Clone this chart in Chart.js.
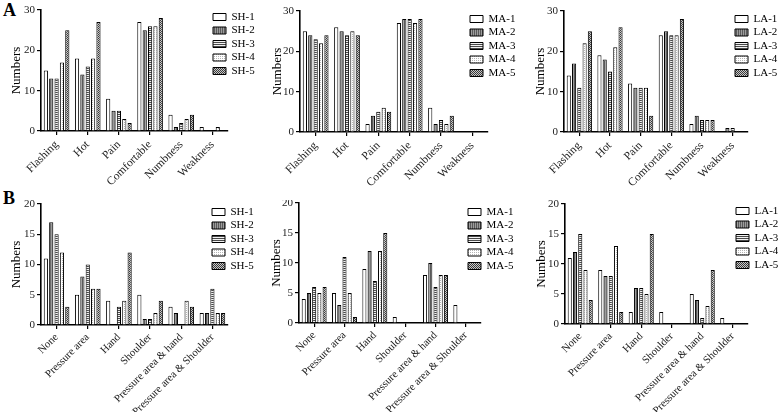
<!DOCTYPE html>
<html>
<head>
<meta charset="utf-8">
<script src="https://cdn.jsdelivr.net/npm/chart.js@4"></script>
<style>
    body { margin: 0; background: #fff; width: 778px; height: 412px; position: relative; overflow: hidden; font-family: 'Liberation Serif', 'Times New Roman', serif; }
    canvas.panel { position: absolute; }
    .tag { position: absolute; font-weight: bold; font-size: 18px; line-height: 18px; color: #000; }
</style>
</head>
<body>
<div class="tag" style="left:3px;top:1px">A</div>
<div class="tag" style="left:3px;top:189px">B</div>
<canvas id="aSH" class="panel"></canvas>
<canvas id="aMA" class="panel"></canvas>
<canvas id="aLA" class="panel"></canvas>
<canvas id="bSH" class="panel"></canvas>
<canvas id="bMA" class="panel"></canvas>
<canvas id="bLA" class="panel"></canvas>
<script>
const symptomLabels = ['Flashing', 'Hot', 'Pain', 'Comfortable', 'Numbness', 'Weakness'];
const regionLabels = ['None', 'Pressure area', 'Hand', 'Shoulder', 'Pressure area & hand', 'Pressure area & Shoulder'];

// one row per group (-1 ... -5)
const shSymptoms = [
    [15, 18, 8, 27, 4, 1],
    [13, 14, 5, 25, 1, 0],
    [13, 16, 5, 26, 2, 0],
    [17, 18, 3, 26, 3, 1],
    [25, 27, 2, 28, 4, 0]
];
const maSymptoms = [
    [25, 26, 2, 27, 6, 0],
    [24, 25, 4, 28, 2, 0],
    [23, 24, 5, 28, 3, 0],
    [22, 25, 6, 27, 2, 0],
    [24, 24, 5, 28, 4, 0]
];
const laSymptoms = [
    [14, 19, 12, 24, 2, 0],
    [17, 18, 11, 25, 4, 1],
    [11, 15, 11, 24, 3, 1],
    [22, 21, 11, 24, 3, 0],
    [25, 26, 4, 28, 3, 0]
];
const shRegions = [
    [11, 5, 4, 5, 3, 2],
    [17, 8, 0, 1, 2, 2],
    [15, 10, 3, 1, 0, 6],
    [12, 6, 4, 2, 4, 2],
    [3, 6, 12, 4, 3, 2]
];
const maRegions = [
    [4, 5, 9, 1, 8, 3],
    [5, 3, 12, 0, 10, 0],
    [6, 11, 7, 0, 6, 0],
    [5, 5, 12, 0, 8, 0],
    [6, 1, 15, 0, 8, 0]
];
const laRegions = [
    [11, 9, 2, 2, 5, 1],
    [12, 8, 6, 0, 4, 0],
    [15, 8, 6, 0, 1, 0],
    [9, 13, 5, 0, 3, 0],
    [4, 2, 15, 0, 9, 0]
];

const FONT = "'Liberation Serif', 'Times New Roman', serif";

function pattern(w, h, paint) {
    const c = document.createElement('canvas');
    c.width = w;
    c.height = h;
    const g = c.getContext('2d');
    paint(g);
    return g.createPattern(c, 'repeat');
}

const fills = [
    '#ffffff',
    pattern(2, 2, g => { g.fillStyle = '#9c9c9c'; g.fillRect(0, 0, 2, 2); g.fillStyle = '#5a5a5a'; g.fillRect(0, 0, 1, 2); }),
    pattern(2, 2, g => { g.fillStyle = '#f2f2f2'; g.fillRect(0, 0, 2, 2); g.fillStyle = '#4a4a4a'; g.fillRect(0, 0, 2, 1); }),
    pattern(2, 2, g => { g.fillStyle = '#ffffff'; g.fillRect(0, 0, 2, 2); g.fillStyle = '#b4b4b4'; g.fillRect(0, 0, 1, 1); }),
    pattern(2, 2, g => { g.fillStyle = '#c8c8c8'; g.fillRect(0, 0, 2, 2); g.fillStyle = '#3a3a3a'; g.fillRect(0, 0, 1, 1); g.fillRect(1, 1, 1, 1); })
];

// moves the legend to a fixed spot inside the panel
const legendSpot = {
    id: 'legendSpot',
    afterLayout(chart, args, opts) {
        const lg = chart.legend;
        const w = lg.width, h = lg.height;
        lg.left = opts.x;
        lg.top = opts.y;
        lg.right = opts.x + w;
        lg.bottom = opts.y + h;
    }
};

function makePanel(id, p, labels, series, prefix, yMax, yStep) {
    const canvas = document.getElementById(id);
    canvas.width = p.w;
    canvas.height = p.h;
    canvas.style.left = p.x + 'px';
    canvas.style.top = p.y + 'px';
    canvas.style.width = p.w + 'px';
    canvas.style.height = p.h + 'px';

    new Chart(canvas, {
        type: 'bar',
        data: {
            labels: labels,
            datasets: series.map((vals, i) => ({
                label: prefix + '-' + (i + 1),
                data: vals,
                backgroundColor: fills[i],
                borderColor: '#000',
                borderWidth: 1,
                categoryPercentage: 0.86,
                barPercentage: 0.78
            }))
        },
        options: {
            responsive: false,
            animation: false,
            devicePixelRatio: 1,
            layout: {
                autoPadding: false,
                padding: { left: 0, top: p.top, right: p.w - p.right, bottom: 0 }
            },
            plugins: {
                legend: {
                    position: 'chartArea',
                    align: 'start',
                    labels: {
                        font: { family: FONT, size: 11 },
                        color: '#000',
                        boxWidth: 13,
                        boxHeight: 7,
                        padding: 2.5
                    }
                },
                tooltip: { enabled: false },
                legendSpot: { x: p.lx, y: p.ly }
            },
            scales: {
                x: {
                    offset: true,
                    grid: {
                        display: true,
                        drawOnChartArea: false,
                        drawTicks: true,
                        tickLength: 4,
                        color: '#000',
                        lineWidth: 1.2,
                        offset: false
                    },
                    border: { display: true, color: '#000', width: 1.6 },
                    ticks: {
                        autoSkip: false,
                        minRotation: 45,
                        maxRotation: 45,
                        padding: p.xPad,
                        font: { family: FONT, size: p.xFont },
                        color: '#222'
                    },
                    afterFit(s) {
                        s.height = p.h - p.bottom;
                        s.paddingLeft = 0;
                        s.paddingRight = 0;
                    }
                },
                y: {
                    min: 0,
                    max: yMax,
                    ticks: {
                        stepSize: yStep,
                        padding: 2,
                        font: { family: FONT, size: 11 },
                        color: '#222'
                    },
                    grid: {
                        drawOnChartArea: false,
                        tickLength: 4,
                        color: '#000',
                        lineWidth: 1.2
                    },
                    border: { display: true, color: '#000', width: 1.6 },
                    title: {
                        display: true,
                        text: 'Numbers',
                        font: { family: FONT, size: 13 },
                        color: '#000',
                        padding: { top: p.tc - 7.8, bottom: 0 }
                    },
                    afterFit(s) {
                        s.width = p.left;
                        s.paddingTop = 0;
                        s.paddingBottom = 0;
                    }
                }
            }
        },
        plugins: [legendSpot]
    });
}

makePanel('aSH', { x: 0, y: 0, w: 260, h: 200, left: 41, right: 228, top: 10, bottom: 131, tc: 17, lx: 210.5, ly: 9, xFont: 11.5, xPad: 3 },
    symptomLabels, shSymptoms, 'SH', 30, 10);
makePanel('aMA', { x: 260, y: 0, w: 258, h: 200, left: 40, right: 228, top: 11, bottom: 132, tc: 18, lx: 207.5, ly: 11, xFont: 11.5, xPad: 3 },
    symptomLabels, maSymptoms, 'MA', 30, 10);
makePanel('aLA', { x: 518, y: 0, w: 260, h: 200, left: 46, right: 230, top: 11, bottom: 132, tc: 23, lx: 214.5, ly: 11, xFont: 11.5, xPad: 3 },
    symptomLabels, laSymptoms, 'LA', 30, 10);
makePanel('bSH', { x: 0, y: 200, w: 260, h: 212, left: 41, right: 228, top: 4, bottom: 125, tc: 17, lx: 209.5, ly: 4, xFont: 10.8, xPad: 2 },
    regionLabels, shRegions, 'SH', 20, 5);
makePanel('bMA', { x: 260, y: 200, w: 258, h: 212, left: 39, right: 221, top: 3, bottom: 123, tc: 17, lx: 205.5, ly: 4, xFont: 10.8, xPad: 2 },
    regionLabels, maRegions, 'MA', 20, 5);
makePanel('bLA', { x: 518, y: 200, w: 260, h: 212, left: 47, right: 230, top: 4, bottom: 124, tc: 24, lx: 215.5, ly: 3, xFont: 10.8, xPad: 2 },
    regionLabels, laRegions, 'LA', 20, 5);
</script>
</body>
</html>
